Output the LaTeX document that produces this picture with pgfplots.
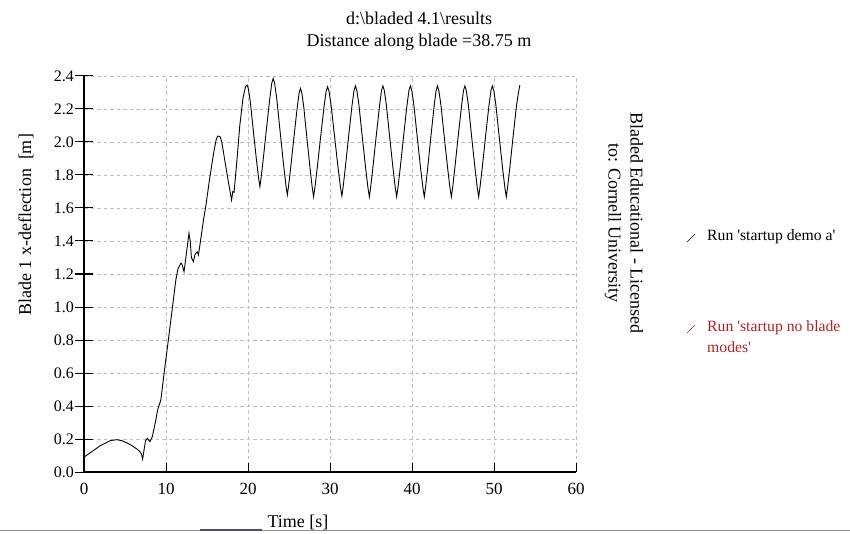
\documentclass[border=0pt]{standalone}
\usepackage{fontspec}
\setmainfont{Liberation Serif}
\newfontfamily\plainserif{Liberation Serif}
\usepackage{pgfplots}
\pgfplotsset{compat=1.18}
\definecolor{legred}{RGB}{178,34,34}
\begin{document}
\begin{tikzpicture}
\useasboundingbox (0pt,0pt) rectangle (850pt,533pt);
\begin{axis}[
  at={(84pt,61pt)}, anchor=south west,
  scale only axis, width=492pt, height=396pt,
  xmin=0, xmax=60, ymin=0, ymax=2.4,
  axis x line=bottom, axis y line=left,
  axis line style={-, line width=1.2pt, black},
  xtick={0,10,20,30,40,50,60},
  ytick={0,0.2,0.4,0.6,0.8,1.0,1.2,1.4,1.6,1.8,2.0,2.2,2.4},
  extra y ticks={0,0.2,0.4,0.6,0.8,1.0,1.2,1.4,1.6,1.8,2.0,2.2,2.4},
  extra y tick labels={},
  extra y tick style={tick align=outside, grid=none},
  grid=major,
  grid style={color=black!25, line width=0.7pt, dash pattern=on 3.5pt off 3pt},
  tick align=inside, major tick length=9pt,
  tick style={black, line width=1pt},
  /pgf/number format/assume math mode=true,
  yticklabel style={font=\fontsize{16}{18}\selectfont, anchor=east, inner sep=0pt, xshift=-10pt,
    /pgf/number format/.cd, fixed, fixed zerofill, precision=1},
  xticklabel style={font=\fontsize{17}{19}\selectfont, anchor=north, inner sep=0pt, yshift=-11pt},
]
\addplot[black, line width=0.9pt] coordinates {
(0,0.09) (1,0.125) (2,0.16) (2.5,0.172) (3.2,0.19) (4,0.196) (4.6,0.19)
(5.3,0.175) (6,0.155) (6.7,0.13) (7.0,0.11) (7.15,0.078) (7.5,0.19)
(7.72,0.204) (8.04,0.184) (8.33,0.214) (8.7,0.30) (9.0,0.38) (9.37,0.436)
(9.77,0.60) (10.26,0.79) (10.79,1.0) (11.2,1.164) (11.45,1.23) (11.8,1.265)
(11.95,1.26) (12.2,1.214) (12.5,1.33) (12.8,1.447) (12.95,1.40) (13.1,1.30)
(13.33,1.275) (13.55,1.32) (13.8,1.335) (13.96,1.315) (14.57,1.527)
(14.85,1.61) (15.3,1.77) (15.8,1.93) (16.1,2.01) (16.3,2.036) (16.6,2.032)
(16.8,2.0) (17.2,1.88) (17.6,1.76) (17.85,1.69) (18.0,1.648) (18.15,1.70)
(18.3,1.695) (18.6,1.86) (19.0,2.10) (19.4,2.27) (19.7,2.335) (19.9,2.345)
(20.055,2.320) (20.29,2.240) (20.675,2.056) (21.06,1.878) (21.295,1.779) (21.45,1.73)
(21.612,1.789) (21.855,1.894) (22.26,2.084) (22.665,2.267) (22.908,2.359) (23.07,2.385)
(23.243,2.357) (23.503,2.265) (23.935,2.054) (24.368,1.849) (24.627,1.736) (24.8,1.68)
(24.96,1.738) (25.2,1.841) (25.6,2.028) (26.0,2.209) (26.24,2.299) (26.4,2.325)
(26.56,2.299) (26.8,2.213) (27.2,2.016) (27.6,1.826) (27.84,1.721) (28.0,1.668)
(28.17,1.728) (28.425,1.835) (28.85,2.028) (29.275,2.215) (29.53,2.308) (29.7,2.335)
(29.875,2.309) (30.1375,2.222) (30.575,2.024) (31.0125,1.832) (31.275,1.726) (31.45,1.673)
(31.615,1.733) (31.86,1.841) (32.275,2.036) (32.69,2.224) (32.935,2.313) (33.1,2.34)
(33.27,2.313) (33.525,2.226) (33.95,2.024) (34.375,1.829) (34.63,1.722) (34.8,1.668)
(34.965,1.728) (35.21,1.836) (35.625,2.031) (36.04,2.219) (36.285,2.313) (36.45,2.34)
(36.62,2.313) (36.87,2.226) (37.29,2.024) (37.71,1.829) (37.96,1.722) (38.13,1.668)
(38.297,1.728) (38.55,1.836) (38.965,2.031) (39.38,2.219) (39.63,2.313) (39.8,2.34)
(39.97,2.313) (40.225,2.226) (40.65,2.024) (41.075,1.829) (41.33,1.722) (41.5,1.668)
(41.66,1.728) (41.9,1.836) (42.3,2.031) (42.7,2.219) (42.94,2.313) (43.1,2.34)
(43.27,2.313) (43.525,2.226) (43.95,2.024) (44.375,1.829) (44.63,1.722) (44.8,1.668)
(44.965,1.728) (45.21,1.836) (45.625,2.031) (46.04,2.219) (46.285,2.313) (46.45,2.34)
(46.62,2.313) (46.87,2.226) (47.29,2.024) (47.71,1.829) (47.96,1.722) (48.13,1.668)
(48.297,1.728) (48.55,1.836) (48.965,2.031) (49.38,2.219) (49.63,2.313) (49.8,2.34)
(49.97,2.313) (50.225,2.226) (50.65,2.024) (51.075,1.829) (51.33,1.722) (51.5,1.668)
(51.665,1.728) (51.91,1.836) (52.325,2.031) (52.74,2.219) (52.985,2.30) (53.15,2.345)
};
\end{axis}
% titles and labels
\node[align=center, font=\fontsize{18}{22}\selectfont] at (419pt,502pt)
  {d:\textbackslash bladed 4.1\textbackslash results\\Distance along blade =38.75 m};
\node[rotate=90, font=\fontsize{18}{22}\selectfont] at (26pt,308pt)
  {Blade 1 x-deflection\ \ [m]};
\node[anchor=base, font=\fontsize{18}{22}\selectfont] at (298pt,5.5pt) {Time [s]};
\node[rotate=-90, align=center, font=\fontsize{18}{22}\selectfont] at (624pt,310pt)
  {Bladed Educational - Licensed\\to: Cornell University};
% legend
\draw[black, line width=0.6pt] (687pt,291pt) -- (695pt,299pt);
\node[anchor=west, inner sep=0pt, font=\plainserif\fontsize{15.7}{18}\selectfont] at (707pt,296pt)
  {Run 'startup demo a'};
\draw[legred, line width=0.6pt] (687pt,200pt) -- (695pt,208pt);
\node[anchor=west, inner sep=0pt, text=legred, font=\plainserif\fontsize{15.7}{18}\selectfont] at (707pt,205pt)
  {Run 'startup no blade};
\node[anchor=west, inner sep=0pt, text=legred, font=\plainserif\fontsize{15.7}{18}\selectfont] at (707pt,186pt)
  {modes'};
% window frame line at bottom
\draw[black!45, line width=1pt] (0pt,3pt) -- (850pt,3pt);
\draw[blue!30!black!70, line width=1.2pt] (200pt,3pt) -- (262pt,3pt);
\end{tikzpicture}
\end{document}
